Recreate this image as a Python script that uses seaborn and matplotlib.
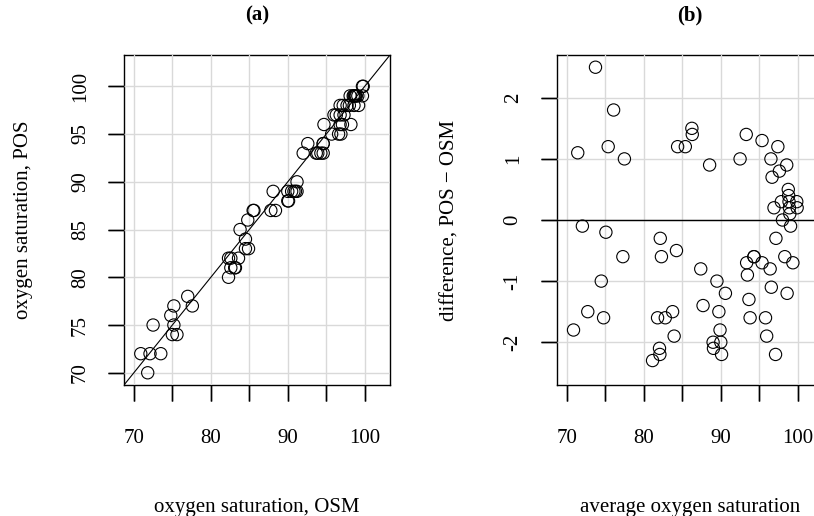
import numpy as np
import pandas as pd
import matplotlib
matplotlib.use("Agg")
import matplotlib.pyplot as plt
import seaborn as sns

# oxygen saturation by two methods
osm = [72.5, 75.2, 70.9, 74.8, 77.0, 85.5, 85.6, 83.8, 84.8, 88.1,
       92.0, 92.6, 94.7, 96.8, 96.0, 98.1, 97.2, 96.3, 98.5, 98.6,
       97.7, 98.7, 99.7, 96.8, 98.8, 99.8, 98.9, 98.0, 99.1, 72.1,
       75.2, 82.3, 97.3, 77.6, 82.6, 84.5, 94.6, 94.6, 98.6, 93.7,
       95.7, 99.7, 96.8, 87.8, 93.9, 75.0, 90.0, 91.2, 97.1, 99.2,
       94.3, 88.4, 73.5, 84.5, 90.5, 75.6, 82.6, 83.6, 94.6, 96.6,
       84.9, 96.9, 90.8, 71.8, 90.0, 91.0, 90.1, 83.1, 83.2, 91.2,
       98.2, 82.3]
pos = [75, 77, 72, 76, 78, 87, 87, 85, 86, 89,
       93, 94, 96, 98, 97, 99, 98, 97, 99, 99,
       98, 99, 100, 97, 99, 100, 99, 98, 99, 72,
       75, 82, 97, 77, 82, 84, 94, 94, 98, 93,
       95, 99, 96, 87, 93, 74, 89, 90, 96, 98,
       93, 87, 72, 83, 89, 74, 81, 82, 93, 95,
       83, 95, 89, 70, 88, 89, 88, 81, 81, 89,
       96, 80]

xticks = [70, 75, 80, 85, 90, 95, 100]
xticklabels = ["70", "", "80", "", "90", "", "100"]
yticks_a = [70, 75, 80, 85, 90, 95, 100]
yticks_b = [-2, -1, 0, 1, 2]

data = pd.DataFrame({"osm": osm, "pos": pos})
data["avg"] = (data["osm"] + data["pos"]) / 2
data["diff"] = data["pos"] - data["osm"]

sns.set_theme(style="whitegrid", rc={
    "axes.axisbelow": False,
    "xtick.bottom": True, "ytick.left": True,
    "xtick.direction": "out", "ytick.direction": "out",
    "xtick.major.size": 11.5, "ytick.major.size": 11.5,
    "xtick.major.width": 1.0, "ytick.major.width": 1.0,
    "xtick.major.pad": 20, "ytick.major.pad": 13,
    "xtick.labelsize": 15, "ytick.labelsize": 15,
    "xtick.color": "black", "ytick.color": "black",
    "text.color": "black", "axes.labelcolor": "black",
    "axes.edgecolor": "black", "axes.linewidth": 1.0,
    "grid.color": "#d9d9d9", "grid.linewidth": 1.0,
})
plt.rcParams["font.family"] = ["Liberation Serif", "DejaVu Serif"]
plt.rcParams["axes.unicode_minus"] = False


def rlim(lo, hi):
    ext = 0.04 * (hi - lo)
    return lo - ext, hi + ext


fig = plt.figure(figsize=(8.14, 5.16), dpi=100)
ax1 = fig.add_axes([124 / 814, 131 / 516, 266 / 814, 330 / 516])
ax2 = fig.add_axes([556.7 / 814, 131 / 516, 266.5 / 814, 330 / 516])

pt = dict(s=78, facecolor="none", edgecolor="black", linewidth=0.8, zorder=3)

sns.scatterplot(data=data, x="osm", y="pos", ax=ax1, **pt)
ax1.axline((70, 70), slope=1, color="black", linewidth=0.8, zorder=2.7)
ax1.set_xlim(rlim(70, 102))
ax1.set_ylim(rlim(70, 102))
ax1.set_yticks(yticks_a)

sns.scatterplot(data=data, x="avg", y="diff", ax=ax2, **pt)
ax2.axhline(0, color="black", linewidth=1.0, zorder=2.7)
ax2.set_xlim(rlim(70, 102))
ax2.set_ylim(rlim(-2.5, 2.5))
ax2.set_yticks(yticks_b)

for ax, yt in ((ax1, yticks_a), (ax2, yticks_b)):
    ax.set_xticks(xticks)
    ax.set_xticklabels(xticklabels)
    for lab in ax.get_yticklabels():
        lab.set_rotation(90)
        lab.set_va("center")
    # outward tick marks, R style
    ax.vlines(xticks, -16 / 330, 0, transform=ax.get_xaxis_transform(),
              colors="black", linewidth=1.0, clip_on=False)
    ax.hlines(yt, -16 / 266, 0, transform=ax.get_yaxis_transform(),
              colors="black", linewidth=1.0, clip_on=False)

ax1.set_title("(a)", fontsize=15, fontweight="bold", pad=24.5)
ax2.set_title("(b)", fontsize=15, fontweight="bold", pad=24.5)
ax1.set_xlabel("oxygen saturation, OSM", fontsize=15, labelpad=36)
ax1.set_ylabel("oxygen saturation, POS", fontsize=15, labelpad=27)
ax2.set_xlabel("average oxygen saturation", fontsize=15, labelpad=36)
ax2.set_ylabel("difference, POS \u2212 OSM", fontsize=15, labelpad=32)

fig.savefig("out.png", dpi=100, facecolor="white")
